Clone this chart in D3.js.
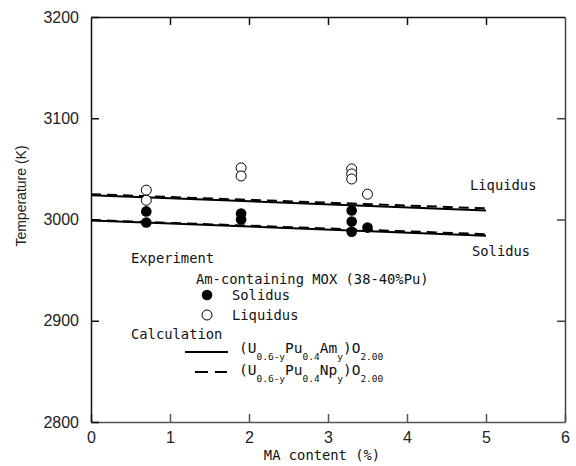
<!DOCTYPE html>
<html>
<head>
<meta charset="utf-8">
<script src="https://cdn.jsdelivr.net/npm/d3@7"></script>
<style>
  body { margin: 0; background: #fff; }
  .tick text { font-family: "Liberation Sans", Arial, sans-serif; font-size: 16px; fill: #222; }
  .jp { font-family: "DejaVu Sans Mono", monospace; font-size: 13.8px; fill: #111; }
</style>
</head>
<body>
<div id="chart"></div>
<script>
// Layout
const W = 576, H = 466;
const PLOT = { left: 91, right: 565, top: 17, bottom: 422 };

// Calculation lines (MA content %, temperature K)
const calcMA = [0, 5];
const amLiquidus = [3024, 3009];
const amSolidus = [2999, 2984];
const npLiquidus = [3025, 3011];
const npSolidus = [2999.5, 2985.5];

// Experiment points
const solidusMA = [0.7, 0.7, 1.9, 1.9, 3.3, 3.3, 3.3, 3.5];
const solidusT = [3008, 2997, 3006, 3000, 3009, 2998, 2988, 2992];
const liquidusMA = [0.7, 0.7, 1.9, 1.9, 3.3, 3.3, 3.3, 3.5];
const liquidusT = [3029, 3019, 3051, 3043, 3050, 3045, 3040, 3025];

// Ticks
const xTicks = [0, 1, 2, 3, 4, 5, 6];
const yTicks = [2800, 2900, 3000, 3100, 3200];

const svg = d3.select("#chart").append("svg")
    .attr("width", W)
    .attr("height", H);

const x = d3.scaleLinear().domain([0, 6]).range([PLOT.left, PLOT.right]);
const y = d3.scaleLinear().domain([2800, 3200]).range([PLOT.bottom, PLOT.top]);

// Axes (ticks point inward)
svg.append("g")
    .attr("transform", `translate(0,${PLOT.bottom})`)
    .call(d3.axisBottom(x).tickValues(xTicks).tickFormat(d3.format("d")).tickSizeInner(-8).tickSizeOuter(0).tickPadding(10))
    .call(g => g.selectAll("line, path").attr("stroke", "#555").attr("stroke-width", 1.5));

svg.append("g")
    .attr("transform", `translate(0,${PLOT.top})`)
    .call(d3.axisTop(x).tickValues([1, 2, 3, 4, 5]).tickFormat("").tickSizeInner(-8).tickSizeOuter(0))
    .call(g => g.selectAll("line, path").attr("stroke", "#111").attr("stroke-width", 1.5));

svg.append("g")
    .attr("transform", `translate(${PLOT.left},0)`)
    .call(d3.axisLeft(y).tickValues(yTicks).tickFormat(d3.format("d")).tickSizeInner(-8).tickSizeOuter(0).tickPadding(12))
    .call(g => g.selectAll("line, path").attr("stroke", "#111").attr("stroke-width", 1.5));

svg.append("g")
    .attr("transform", `translate(${PLOT.right},0)`)
    .call(d3.axisRight(y).tickValues([2900, 3000, 3100]).tickFormat("").tickSizeInner(-8).tickSizeOuter(0))
    .call(g => g.selectAll("line, path").attr("stroke", "#444").attr("stroke-width", 1.5));

// Calculation lines
const line = d3.line().x(d => x(d[0])).y(d => y(d[1]));
const zip = (a, b) => a.map((v, i) => [v, b[i]]);

[amLiquidus, amSolidus].forEach(s => {
    svg.append("path")
        .attr("d", line(zip(calcMA, s)))
        .attr("fill", "none")
        .attr("stroke", "#000")
        .attr("stroke-width", 2);
});
[npLiquidus, npSolidus].forEach(s => {
    svg.append("path")
        .attr("d", line(zip(calcMA, s)))
        .attr("fill", "none")
        .attr("stroke", "#000")
        .attr("stroke-width", 2)
        .attr("stroke-dasharray", "10,6");
});

// Experiment points
svg.append("g").selectAll("circle")
    .data(zip(liquidusMA, liquidusT))
    .join("circle")
    .attr("cx", d => x(d[0]))
    .attr("cy", d => y(d[1]))
    .attr("r", 5)
    .attr("fill", "#fff")
    .attr("stroke", "#000")
    .attr("stroke-width", 1);

svg.append("g").selectAll("circle")
    .data(zip(solidusMA, solidusT))
    .join("circle")
    .attr("cx", d => x(d[0]))
    .attr("cy", d => y(d[1]))
    .attr("r", 5.3)
    .attr("fill", "#000");

// Curve labels
svg.append("text").attr("class", "jp").attr("x", 470).attr("y", 190).text("Liquidus");
svg.append("text").attr("class", "jp").attr("x", 472).attr("y", 256).text("Solidus");

// Axis titles
svg.append("text").attr("class", "jp")
    .attr("x", 322).attr("y", 460)
    .attr("text-anchor", "middle")
    .text("MA content (%)");

svg.append("text")
    .attr("transform", "translate(26,196) rotate(-90)")
    .attr("text-anchor", "middle")
    .style("font-family", "'Liberation Sans Narrow', 'Liberation Sans', Arial, sans-serif")
    .style("font-size", "14px")
    .attr("fill", "#222")
    .text("Temperature (K)");

// Legend
const leg = svg.append("g");
leg.append("text").attr("class", "jp").attr("x", 131).attr("y", 263).text("Experiment");
leg.append("text").attr("class", "jp").attr("x", 196).attr("y", 284).text("Am-containing MOX (38-40%Pu)");
leg.append("circle").attr("cx", 207).attr("cy", 295).attr("r", 5.3).attr("fill", "#000");
leg.append("text").attr("class", "jp").attr("x", 232).attr("y", 300).text("Solidus");
leg.append("circle").attr("cx", 207).attr("cy", 315).attr("r", 5).attr("fill", "#fff").attr("stroke", "#000");
leg.append("text").attr("class", "jp").attr("x", 232).attr("y", 320).text("Liquidus");
leg.append("text").attr("class", "jp").attr("x", 131).attr("y", 339).text("Calculation");

leg.append("line").attr("x1", 185).attr("x2", 228).attr("y1", 352).attr("y2", 352)
    .attr("stroke", "#000").attr("stroke-width", 2);
leg.append("line").attr("x1", 195).attr("x2", 227).attr("y1", 372).attr("y2", 372)
    .attr("stroke", "#000").attr("stroke-width", 2).attr("stroke-dasharray", "13,7");

const formulas = [
    { y: 353, parts: [["(U", 0], ["0.6-y", 1], ["Pu", 0], ["0.4", 1], ["Am", 0], ["y", 1], [")O", 0], ["2.00", 1]] },
    { y: 375, parts: [["(U", 0], ["0.6-y", 1], ["Pu", 0], ["0.4", 1], ["Np", 0], ["y", 1], [")O", 0], ["2.00", 1]] }
];
formulas.forEach(f => {
    const t = leg.append("text").attr("class", "jp").attr("x", 239).attr("y", f.y);
    let prevSub = 0;
    f.parts.forEach(([s, sub]) => {
        t.append("tspan")
            .attr("dy", sub === prevSub ? 0 : (sub ? 7 : -7))
            .style("font-size", sub ? "9.5px" : "14.5px")
            .text(s);
        prevSub = sub;
    });
});
</script>
</body>
</html>
